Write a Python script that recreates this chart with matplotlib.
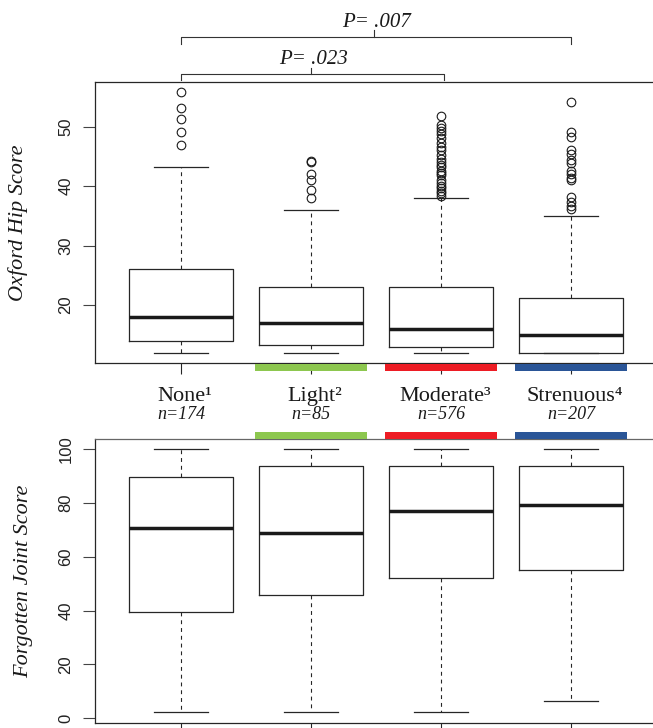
import matplotlib
matplotlib.use("Agg")
import matplotlib.pyplot as plt
import matplotlib.transforms as mtransforms
from matplotlib.patches import Rectangle

# ---------------- data ----------------
categories = ["None", "Light", "Moderate", "Strenuous"]
superscripts = ["\u00b9", "\u00b2", "\u00b3", "\u2074"]
n_counts = [174, 85, 576, 207]
bar_colors = [None, "#8DC74F", "#ED1C24", "#2A5597"]

# Oxford Hip Score box statistics
ohs_whislo = [12, 12, 12, 12]
ohs_q1 = [14, 13.2, 13, 12]
ohs_med = [18, 17, 16, 15]
ohs_q3 = [26, 23, 23, 21.2]
ohs_whishi = [43.2, 36, 38, 35]
ohs_out_none = [46.9, 49.1, 51.3, 53.1, 55.8]
ohs_out_light = [38.0, 39.3, 41.1, 42.1, 44.0, 44.2]
ohs_out_moderate = [38.4, 38.8, 39.2, 39.6, 40.0, 40.5, 41.0, 41.8, 42.2, 42.6,
                    43.2, 43.6, 44.1, 44.6, 45.3, 46.0, 46.6, 47.3, 48.0, 48.7,
                    49.3, 49.8, 50.3, 51.8]
ohs_out_strenuous = [36.1, 36.7, 37.4, 38.2, 41.0, 41.3, 42.1, 42.6, 43.8,
                     44.4, 45.4, 46.1, 48.2, 49.1, 54.1]
ohs_outliers = [ohs_out_none, ohs_out_light, ohs_out_moderate, ohs_out_strenuous]

# Forgotten Joint Score box statistics
fjs_whislo = [2.2, 2.2, 2.2, 6.4]
fjs_q1 = [39.6, 45.8, 52.0, 55.2]
fjs_med = [70.9, 68.8, 77.1, 79.2]
fjs_q3 = [89.6, 93.7, 93.7, 93.7]
fjs_whishi = [100, 100, 100, 100]

ohs_ticks = [20, 30, 40, 50]
fjs_ticks = [0, 20, 40, 60, 80, 100]

comparisons = [(1, 4, "P= .007"), (1, 3, "P= .023")]

# ---------------- figure ----------------
W, H = 653, 728
fig = plt.figure(figsize=(W / 100, H / 100), dpi=100)

def fy(py):
    return 1 - py / H

SANS = ["Liberation Sans", "DejaVu Sans"]
SERIF = ["Liberation Serif", "DejaVu Serif"]

left_px, right_px = 95, 660
pos = [1, 2, 3, 4]
px_per_unit = 130.0
x0 = 1 - (181 - left_px) / px_per_unit
x1 = 4 + (right_px - 571) / px_per_unit

ax_top = fig.add_axes([left_px / W, fy(363), (right_px - left_px) / W, (363 - 82) / H])
ax_bot = fig.add_axes([left_px / W, fy(723), (right_px - left_px) / W, (723 - 439) / H])

line_col = "#262626"
boxprops = dict(color=line_col, linewidth=0.9)
whiskerprops = dict(color=line_col, linewidth=0.8, linestyle=(0, (3.5, 3.5)))
capprops = dict(color=line_col, linewidth=0.9)
medianprops = dict(color="#1a1a1a", linewidth=2.5, solid_capstyle="butt")
flierprops = dict(marker="o", markerfacecolor="none", markeredgecolor="#1a1a1a",
                  markersize=6.2, markeredgewidth=0.8, linestyle="none")

def make_stats(lo, q1, med, q3, hi, fl=None):
    out = []
    for i in range(len(lo)):
        out.append(dict(whislo=lo[i], q1=q1[i], med=med[i], q3=q3[i], whishi=hi[i],
                        fliers=(fl[i] if fl is not None else [])))
    return out

top_stats = make_stats(ohs_whislo, ohs_q1, ohs_med, ohs_q3, ohs_whishi, ohs_outliers)
bot_stats = make_stats(fjs_whislo, fjs_q1, fjs_med, fjs_q3, fjs_whishi)

for ax, stats in ((ax_top, top_stats), (ax_bot, bot_stats)):
    ax.bxp(stats, positions=pos, widths=0.8, capwidths=0.41,
           boxprops=boxprops, whiskerprops=whiskerprops, capprops=capprops,
           medianprops=medianprops, flierprops=flierprops, showfliers=True,
           manage_ticks=False)
    ax.set_xlim(x0, x1)
    ax.set_xticks(pos)
    ax.set_xticklabels([])
    ax.tick_params(axis="x", length=8, width=0.8, color=line_col, direction="out")
    ax.tick_params(axis="y", length=8.5, width=0.8, color="#444444", direction="out",
                   labelrotation=90, pad=7.0, labelsize=12, labelcolor="#222222")
    for s in ("top", "bottom", "left"):
        ax.spines[s].set_linewidth(0.9)
        ax.spines[s].set_color(line_col)
    ax.spines["right"].set_visible(False)
ax_bot.spines["top"].set_color("#666666")

ax_top.set_ylim(10.25, 57.5)
ax_top.set_yticks(ohs_ticks)
ax_bot.set_ylim(-1.75, 103.8)
ax_bot.set_yticks(fjs_ticks)
for ax in (ax_top, ax_bot):
    for lab in ax.get_yticklabels():
        lab.set_family(SANS)
        lab.set_va("center")

# colored group bars
btop = mtransforms.blended_transform_factory(ax_top.transData, fig.transFigure)
bbot = mtransforms.blended_transform_factory(ax_bot.transData, fig.transFigure)
for i, c in enumerate(bar_colors):
    if c is None:
        continue
    ax_top.add_patch(Rectangle((pos[i] - 0.43, fy(371)), 0.86, 7 / H, transform=btop,
                               facecolor=c, edgecolor="none", clip_on=False, zorder=5))
    ax_bot.add_patch(Rectangle((pos[i] - 0.43, fy(438.5)), 0.86, 7 / H, transform=bbot,
                               facecolor=c, edgecolor="none", clip_on=False, zorder=5))

# category labels
for i, cat in enumerate(categories):
    ax_top.text(pos[i] + 0.03, fy(401), cat + superscripts[i], transform=btop,
                ha="center", va="baseline", fontsize=16, family=SERIF,
                color="#1a1a1a", clip_on=False)
    ax_top.text(pos[i], fy(419), f"n={n_counts[i]}", transform=btop,
                ha="center", va="baseline", fontsize=13, family=SERIF,
                style="italic", color="#1a1a1a", clip_on=False)

# significance brackets
bracket_geom = [(37.3, 43.5, 30.0, 27.0), (74.0, 80.0, 67.7, 64.0)]
for (a, b, txt), (ly, ey, my, ty) in zip(comparisons, bracket_geom):
    xb = b + (0.02 if b == 3 else 0.0)
    xm = (a + b) / 2 - (0.015 if b == 4 else 0.0)
    ax_top.plot([a, a, xb, xb], [fy(ey), fy(ly), fy(ly), fy(ey)], transform=btop,
                color="#333333", lw=0.8, clip_on=False)
    ax_top.plot([xm, xm], [fy(ly), fy(my)], transform=btop,
                color="#333333", lw=0.8, clip_on=False)
    ax_top.text(xm + 0.02, fy(ty), txt, transform=btop, ha="center", va="baseline",
                fontsize=15, family=SERIF, style="italic", color="#1a1a1a",
                clip_on=False)

# y-axis titles
fig.text(18 / W, fy(222.5), "Oxford Hip Score", rotation=90, ha="center", va="center",
         fontsize=16, family=SERIF, style="italic", color="#1a1a1a")
fig.text(24 / W, fy(581), "Forgotten Joint Score", rotation=90, ha="center", va="center",
         fontsize=16, family=SERIF, style="italic", color="#1a1a1a")

fig.savefig("out.png", dpi=100)
